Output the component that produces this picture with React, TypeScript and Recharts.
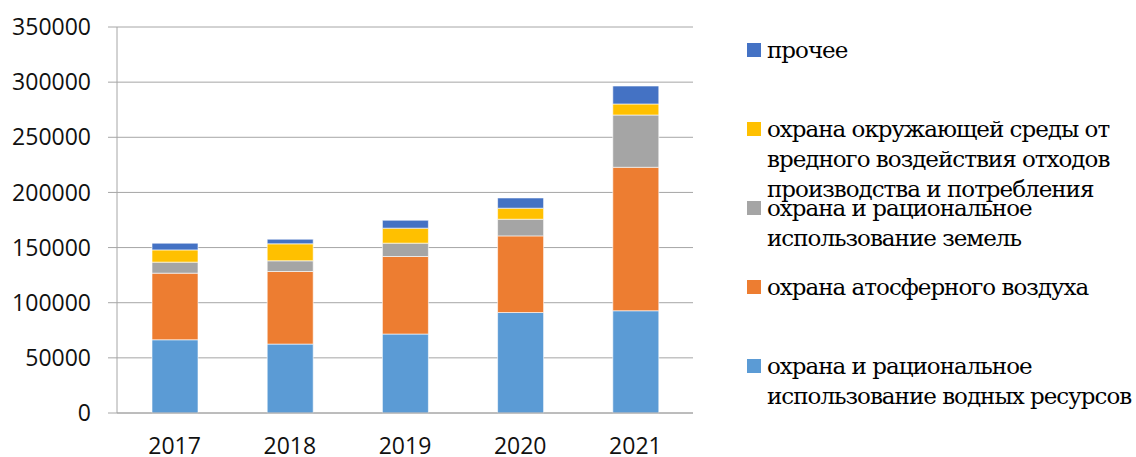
import React from "react";
import { BarChart, Bar, XAxis, YAxis, CartesianGrid } from "recharts";

const years = ["2017", "2018", "2019", "2020", "2021"];
const water = [66400, 62500, 71600, 91100, 92700];
const air = [60400, 65800, 70300, 69500, 130100];
const land = [10000, 9700, 12100, 15100, 47400];
const waste = [11100, 15400, 13600, 10000, 10000];
const other = [6100, 4200, 7200, 9300, 16300];
const yTicks = [0, 50000, 100000, 150000, 200000, 250000, 300000, 350000];

const series = [
  { key: "water", color: "#5B9BD5", lines: ["охрана и рациональное", "использование водных ресурсов"] },
  { key: "air", color: "#ED7D31", lines: ["охрана атосферного воздуха"] },
  { key: "land", color: "#A5A5A5", lines: ["охрана и рациональное", "использование земель"] },
  {
    key: "waste",
    color: "#FFC000",
    lines: ["охрана окружающей среды от", "вредного воздействия отходов", "производства и потребления"],
  },
  { key: "other", color: "#4472C4", lines: ["прочее"] },
];

const chartData = years.map((year, i) => ({
  year,
  water: water[i],
  air: air[i],
  land: land[i],
  waste: waste[i],
  other: other[i],
}));

const gridColor = "#A6A6A6";

// Liberation Serif here has no Cyrillic, DejaVu Serif does
const legendFont = '"DejaVu Serif", serif';

const LegendBlock: React.FC = () => {
  // legend reads top-down: last series first
  const items = [...series].reverse();
  return (
    <div style={{ position: "absolute", left: 0, top: 0 }}>
      {items.map((s, i) => {
        const cy = 50 + i * 79;
        return (
          <div key={s.key}>
            <div
              style={{
                position: "absolute",
                left: 747,
                top: cy - 7,
                width: 14,
                height: 14,
                background: s.color,
              }}
            />
            <div
              style={{
                position: "absolute",
                left: 767,
                top: cy - 15,
                fontFamily: legendFont,
                fontSize: 23,
                letterSpacing: -1,
                lineHeight: "30px",
                color: "#000",
                whiteSpace: "nowrap",
              }}
            >
              {s.lines.map((l, j) => (
                <div key={j}>{l}</div>
              ))}
            </div>
          </div>
        );
      })}
    </div>
  );
};

export default function App() {
  const tickFont = { fontFamily: '"Open Sans", sans-serif', fontSize: 23, fill: "#111" };
  return (
    <div style={{ position: "absolute", left: 0, top: 0, width: 1136, height: 457, background: "#fff" }}>
      <BarChart
        width={1136}
        height={457}
        data={chartData}
        margin={{ top: 27, right: 443, bottom: 0, left: 0 }}
      >
        <CartesianGrid vertical={false} stroke={gridColor} />
        <XAxis
          xAxisId="bounds"
          type="number"
          domain={[0, 5]}
          ticks={[0, 1, 2, 3, 4, 5]}
          allowDataOverflow
          height={0}
          axisLine={false}
          tickSize={9}
          tickLine={{ stroke: gridColor }}
          tickFormatter={() => ""}
        />
        <XAxis
          xAxisId="cat"
          dataKey="year"
          height={44}
          tickLine={false}
          axisLine={{ stroke: gridColor }}
          tickMargin={19}
          tick={tickFont}
        />
        <YAxis
          width={117}
          domain={[0, 350000]}
          ticks={yTicks}
          interval={0}
          axisLine={{ stroke: gridColor }}
          tickLine={{ stroke: gridColor }}
          tickSize={9}
          tickMargin={17}
          tick={tickFont}
        />
        {series.map((s) => (
          <Bar
            key={s.key}
            xAxisId="cat"
            dataKey={s.key}
            stackId="a"
            fill={s.color}
            stroke="#ffffff"
            strokeWidth={0.6}
            barSize={46}
            isAnimationActive={false}
          />
        ))}
      </BarChart>
      <LegendBlock />
    </div>
  );
}
